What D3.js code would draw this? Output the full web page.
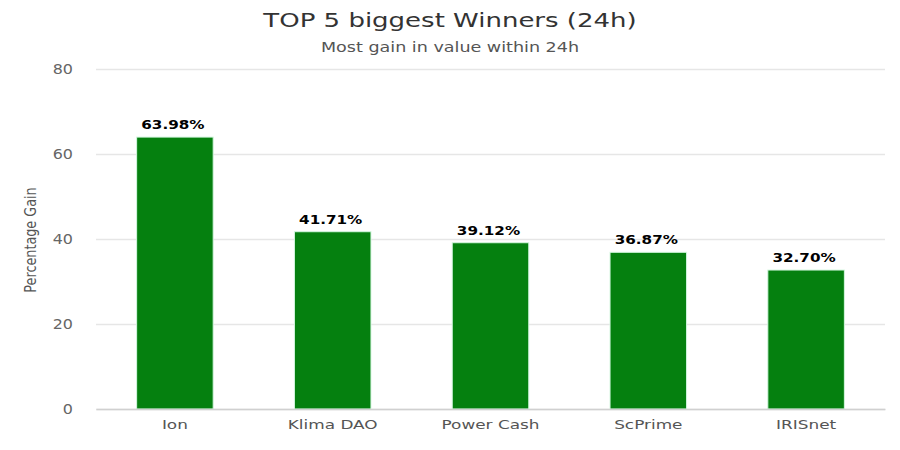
<!DOCTYPE html>
<html>
<head>
<meta charset="utf-8">
<script src="https://cdn.jsdelivr.net/npm/d3@7"></script>
<style>
  html, body { margin: 0; padding: 0; background: #fff; }
  text { font-family: "DejaVu Sans", sans-serif; }
</style>
</head>
<body>
<svg id="chart" width="900" height="450"></svg>
<script>
const categories = ["Ion", "Klima DAO", "Power Cash", "ScPrime", "IRISnet"];
const gains = [63.98, 41.71, 39.12, 36.87, 32.70];
const yTicks = [0, 20, 40, 60, 80];

const svg = d3.select('#chart');
const margin = { top: 69, right: 15, bottom: 41, left: 96 };
const innerW = 900 - margin.left - margin.right;
const innerH = 450 - margin.top - margin.bottom;

const g = svg.append('g').attr('transform', `translate(${margin.left},${margin.top})`);

const x = d3.scaleBand().domain(categories).range([0, innerW]).paddingInner(0.515).paddingOuter(0.2575);
const y = d3.scaleLinear().domain([0, 80]).range([innerH, 0]);

// the reference is stretched sideways, so the text gets a horizontal scale
const wide = 1.3;

svg.append('text').attr('transform', `translate(450,27) scale(${wide},1)`).attr('text-anchor', 'middle')
  .attr('font-size', '20px').attr('fill', '#333').text('TOP 5 biggest Winners (24h)');
svg.append('text').attr('transform', `translate(450,52) scale(${wide},1)`).attr('text-anchor', 'middle')
  .attr('font-size', '13.5px').attr('fill', '#555').text('Most gain in value within 24h');

const yAxis = d3.axisLeft(y).tickValues(yTicks).tickSize(-innerW).tickPadding(23);
const yG = g.append('g').call(yAxis);
yG.select('.domain').remove();
yG.selectAll('.tick line').attr('stroke', '#e6e6e6').attr('stroke-width', 1.3);
yG.selectAll('.tick text')
  .attr('font-size', '13.5px')
  .attr('fill', '#666')
  .attr('x', -23 / 1.18)
  .attr('transform', 'scale(1.18,1)');

g.selectAll('.bar').data(gains).join('rect')
  .attr('class', 'bar')
  .attr('x', (d, i) => x(categories[i]))
  .attr('y', d => y(d))
  .attr('width', x.bandwidth())
  .attr('height', d => innerH - y(d))
  .attr('fill', '#05800f')
  .attr('stroke', '#d5f7e0')
  .attr('stroke-width', 1);

// labels sit about 2px left of the bar centre in the reference
g.selectAll('.bar-label').data(gains).join('text')
  .attr('class', 'bar-label')
  .attr('transform', (d, i) => `translate(${x(categories[i]) + x.bandwidth() / 2 - 2},${y(d) - 8}) scale(1.17,1)`)
  .attr('text-anchor', 'middle')
  .attr('font-size', '13px')
  .attr('font-weight', 'bold')
  .attr('fill', '#000')
  .text(d => d.toFixed(2) + '%');

const xAxis = d3.axisBottom(x).tickSize(0).tickPadding(11);
const xG = g.append('g').attr('transform', `translate(0,${innerH})`).call(xAxis);
xG.select('.domain').attr('stroke', '#d0d0d0').attr('stroke-width', 1.3);
xG.selectAll('.tick text')
  .attr('font-size', '13px')
  .attr('fill', '#555')
  .attr('transform', `scale(${wide},1)`);

svg.append('text')
  .attr('transform', 'translate(36,240) rotate(-90) scale(0.8,1)')
  .attr('text-anchor', 'middle')
  .attr('font-size', '16px')
  .attr('fill', '#555')
  .text('Percentage Gain');
</script>
</body>
</html>
